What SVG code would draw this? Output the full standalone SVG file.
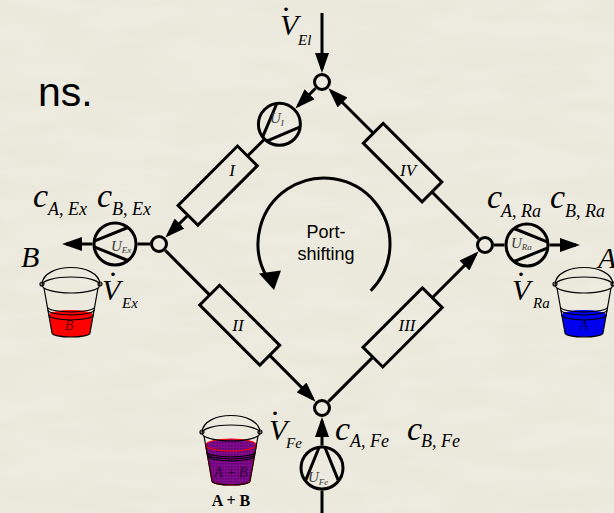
<svg xmlns="http://www.w3.org/2000/svg" width="614" height="513" viewBox="0 0 614 513">
<defs>
<style>
  .ln { fill: none; stroke: #000; stroke-width: 3; }
  .arr { marker-end: url(#ah); }
  .jn { fill: #EDEADF; stroke: #000; stroke-width: 3; }
  .pmp { fill: none; stroke: #000; stroke-width: 3; }
  .res { fill: none; stroke: #000; stroke-width: 3; }
  .thin { fill: none; stroke: #000; stroke-width: 1.2; }
  .math { font-family: "Liberation Serif", "Times New Roman", serif; font-style: italic; fill: #000; }
  .big { font-size: 34px; }
  .vbig { font-size: 30px; }
  .sub { font-size: 18px; }
  .vsub { font-size: 15px; }
  .ulab { font-size: 15px; fill: #3a3a3a; }
  .usub { font-size: 9px; }
  .roman { font-size: 17px; text-anchor: middle; }
  .dot { font-family: "Liberation Serif", serif; font-size: 30px; text-anchor: middle; fill: #000; }
  .sans { font-family: "Liberation Sans", Arial, sans-serif; fill: #000; }
  .liq-lbl { font-family: "Liberation Serif", serif; font-style: italic; font-size: 14px; text-anchor: middle; fill: #000; fill-opacity: 0.65; }
</style>
<!-- faint marble grain for the paper -->
<filter id="grain" x="0" y="0" width="100%" height="100%">
  <feTurbulence type="fractalNoise" baseFrequency="0.012 0.045" numOctaves="3" seed="7"/>
  <feColorMatrix type="matrix" values="0 0 0 0 1  0 0 0 0 1  0 0 0 0 1  0 0 0 0.5 -0.18"/>
</filter>
<marker id="ah" markerUnits="userSpaceOnUse" markerWidth="20" markerHeight="14" refX="16" refY="7" orient="auto">
  <path d="M0,0 L20,7 L0,14 Z" fill="#000"/>
</marker>
<!-- pump: flow along +x, chords converge at the outlet side -->
<g id="pumpSym" class="pmp">
  <circle r="21"/>
  <path d="M20.8,2.9 L-12.9,16.5 M20.8,-2.9 L-12.9,-16.5"/>
</g>
<!-- bucket outline, origin at rim centre -->
<g id="bucketShell" class="thin">
  <path d="M-29,-1 C-27,-23 27,-23 29,-1"/>
  <ellipse rx="29" ry="8"/>
  <circle cx="-29" cy="-1" r="2"/>
  <circle cx="29" cy="-1" r="2"/>
  <path d="M-27,3 L-19,48 A19,4 0 0 0 19,48 L27,3"/>
</g>
<pattern id="mix" width="3" height="3" patternUnits="userSpaceOnUse">
  <rect width="3" height="3" fill="#820a8c"/>
  <rect width="1.5" height="1.5" fill="#5a006e"/>
</pattern>
</defs>

<rect width="614" height="513" fill="#EBE8DC"/>
<rect width="614" height="513" filter="url(#grain)" opacity="0.6"/>

<text class="sans" x="38" y="106" font-size="41">ns.</text>

<!-- connectors -->
<g id="connectors" class="ln">
  <line class="arr" x1="322" y1="13" x2="322" y2="69"/>
  <line class="arr" x1="315.6" y1="88.3" x2="298.2" y2="105.6"/>
  <line x1="264.2" y1="139.5" x2="247.5" y2="156"/>
  <line class="arr" x1="187.9" y1="215.2" x2="168.2" y2="234.8"/>
  <line x1="165.3" y1="250.4" x2="209.8" y2="295.1"/>
  <line class="arr" x1="269.7" y1="355.4" x2="312.8" y2="398.8"/>
  <line x1="328.4" y1="401.6" x2="372.9" y2="357.1"/>
  <line class="arr" x1="432.3" y1="297.7" x2="475.8" y2="254.2"/>
  <line x1="478.6" y1="238.6" x2="432" y2="192"/>
  <line class="arr" x1="373.3" y1="133.3" x2="331.2" y2="91.2"/>
  <line x1="150" y1="244" x2="137.5" y2="244"/>
  <line class="arr" x1="92.5" y1="244" x2="66" y2="244"/>
  <line x1="494" y1="245" x2="504.5" y2="245"/>
  <line class="arr" x1="549.5" y1="245" x2="576" y2="245"/>
  <line x1="322" y1="513" x2="322" y2="490.5"/>
  <line class="arr" x1="322" y1="445.5" x2="322" y2="421"/>
</g>

<!-- junctions -->
<g id="junction-top"><circle class="jn" cx="322" cy="82" r="7.5"/></g>
<g id="junction-left"><circle class="jn" cx="159" cy="244" r="7.5"/></g>
<g id="junction-right"><circle class="jn" cx="485" cy="245" r="7.5"/></g>
<g id="junction-bottom"><circle class="jn" cx="322" cy="408" r="7.5"/></g>

<!-- columns -->
<g id="column-I">
  <rect class="res" x="-42" y="-14" width="84" height="28" transform="translate(217.7,185.6) rotate(-45)"/>
  <text class="math roman" x="232" y="176">I</text>
</g>
<g id="column-II">
  <rect class="res" x="-42.5" y="-14" width="85" height="28" transform="translate(239.7,325.2) rotate(45)"/>
  <text class="math roman" x="238" y="331">II</text>
</g>
<g id="column-III">
  <rect class="res" x="-42" y="-14" width="84" height="28" transform="translate(402.6,327.4) rotate(-45)"/>
  <text class="math roman" x="407" y="331">III</text>
</g>
<g id="column-IV">
  <rect class="res" x="-41.5" y="-14" width="83" height="28" transform="translate(402.6,162.6) rotate(45)"/>
  <text class="math roman" x="408" y="176">IV</text>
</g>

<!-- pumps -->
<g id="pump-I">
  <use href="#pumpSym" transform="translate(279.4,124.3) rotate(135)"/>
  <text class="math ulab" x="270" y="123">U<tspan class="usub" dy="3">I</tspan></text>
</g>
<g id="pump-Ex">
  <use href="#pumpSym" transform="translate(115,244) rotate(180)"/>
  <text class="math ulab" x="111" y="251">U<tspan class="usub" dy="2">Ex</tspan></text>
</g>
<g id="pump-Ra">
  <use href="#pumpSym" transform="translate(527,245)"/>
  <text class="math ulab" x="511" y="248">U<tspan class="usub" dy="2">Ra</tspan></text>
</g>
<g id="pump-Fe">
  <use href="#pumpSym" transform="translate(322,468) rotate(-90)"/>
  <text class="math ulab" x="308" y="482">U<tspan class="usub" dy="3">Fe</tspan></text>
</g>

<!-- port-shifting rotation -->
<g id="port-shifting">
  <path class="ln" d="M370.7,290.7 A66,66 0 1 0 265.7,275"/>
  <path d="M259,273.5 L281,270.5 L274,290 Z" fill="#000"/>
  <text class="sans" x="326" y="238" font-size="18" text-anchor="middle">Port-</text>
  <text class="sans" x="326" y="260" font-size="18" text-anchor="middle">shifting</text>
</g>

<!-- stream labels -->
<g id="label-El">
  <text class="dot" x="286" y="11">.</text>
  <text class="math vbig" x="280" y="35">V</text>
  <text class="math vsub" x="298" y="45">El</text>
</g>
<g id="label-Ex">
  <text class="math big" x="33" y="207">c</text>
  <text class="math sub" x="48" y="215">A, Ex</text>
  <text class="math big" x="97" y="207">c</text>
  <text class="math sub" x="112" y="215">B, Ex</text>
  <text class="math vbig" x="21" y="267">B</text>
  <text class="dot" x="113" y="276">.</text>
  <text class="math vbig" x="102" y="300">V</text>
  <text class="math vsub" x="122" y="308">Ex</text>
</g>
<g id="label-Ra">
  <text class="math big" x="487" y="208">c</text>
  <text class="math sub" x="501" y="217">A, Ra</text>
  <text class="math big" x="550" y="208">c</text>
  <text class="math sub" x="565" y="217">B, Ra</text>
  <text class="math vbig" x="598" y="268">A</text>
  <text class="dot" x="521" y="276">.</text>
  <text class="math vbig" x="512" y="300">V</text>
  <text class="math vsub" x="533" y="308">Ra</text>
</g>
<g id="label-Fe">
  <text class="dot" x="275" y="415">.</text>
  <text class="math vbig" x="269" y="440">V</text>
  <text class="math vsub" x="286" y="448">Fe</text>
  <text class="math big" x="335" y="440">c</text>
  <text class="math sub" x="350" y="447">A, Fe</text>
  <text class="math big" x="407" y="440">c</text>
  <text class="math sub" x="421" y="447">B, Fe</text>
</g>

<!-- buckets -->
<g id="bucket-B" transform="translate(71,285)">
  <path d="M-22.2,30 A22.2,5 0 0 1 22.2,30 L19,48 A19,4 0 0 1 -19,48 Z" fill="#ff0000"/>
  <path class="thin" d="M-22.2,30 A22.2,5 0 0 0 22.2,30" stroke="#700"/>
  <use href="#bucketShell"/>
  <path class="thin" d="M-23.6,22 A23.6,5 0 0 0 23.6,22 M-23.1,25 A23.1,5 0 0 0 23.1,25"/>
  <text class="liq-lbl" x="-2" y="45">B</text>
</g>
<g id="bucket-A" transform="translate(584,285)">
  <path d="M-22.2,30 A22.2,5 0 0 1 22.2,30 L19,48 A19,4 0 0 1 -19,48 Z" fill="#0000f0"/>
  <path class="thin" d="M-22.2,30 A22.2,5 0 0 0 22.2,30" stroke="#000070"/>
  <use href="#bucketShell"/>
  <path class="thin" d="M-23.6,22 A23.6,5 0 0 0 23.6,22 M-23.1,25 A23.1,5 0 0 0 23.1,25"/>
  <text class="liq-lbl" x="0" y="45">A</text>
</g>
<g id="bucket-AB" transform="translate(231,433)">
  <path d="M-25.4,12 A25.4,6 0 0 1 25.4,12 L19,48 A19,4 0 0 1 -19,48 Z" fill="url(#mix)" stroke="#ff0000" stroke-width="1.2"/>
  <path d="M-25.4,12 A25.4,6 0 0 0 25.4,12" fill="none" stroke="#ff0000" stroke-width="1.2"/>
  <use href="#bucketShell"/>
  <path class="thin" d="M-24.2,19 A24.2,5 0 0 0 24.2,19 M-23.8,21 A23.8,5 0 0 0 23.8,21 M-23.4,23 A23.4,5 0 0 0 23.4,23"/>
  <text class="liq-lbl" x="0" y="44" font-size="11">A + B</text>
  <text x="0" y="73" font-family="Liberation Serif, serif" font-weight="bold" font-size="16" text-anchor="middle">A + B</text>
</g>
</svg>
